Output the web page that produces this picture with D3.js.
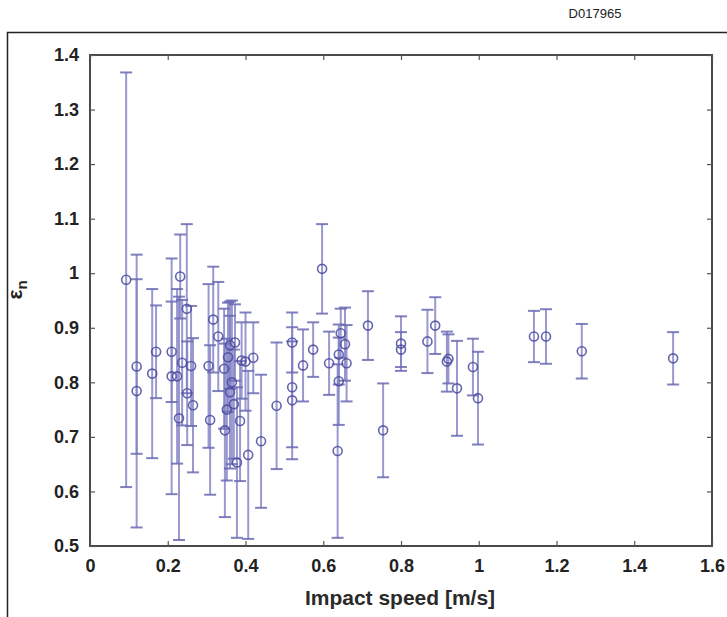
<!DOCTYPE html>
<html>
<head>
<meta charset="utf-8">
<script src="https://cdn.jsdelivr.net/npm/d3@7"></script>
<style>
  body { margin: 0; background: #fff; }
  svg { display: block; }
</style>
</head>
<body>
<svg id="chart" width="727" height="617"></svg>
<script>
// impact speed [m/s] for each measurement
var speed = [0.093, 0.12, 0.12, 0.16, 0.17, 0.21, 0.21, 0.224, 0.232, 0.237,
  0.229, 0.249, 0.26, 0.265, 0.25, 0.309, 0.305, 0.317, 0.33, 0.347,
  0.345, 0.355, 0.36, 0.36, 0.365, 0.373, 0.378, 0.37, 0.386, 0.40,
  0.407, 0.42, 0.39, 0.352, 0.44, 0.48, 0.52, 0.52, 0.52, 0.548,
  0.574, 0.597, 0.615, 0.637, 0.64, 0.64, 0.645, 0.656, 0.66, 0.715,
  0.754, 0.80, 0.80, 0.868, 0.888, 0.918, 0.922, 0.944, 0.985, 0.998,
  1.142, 1.173, 1.265, 1.50];
// restitution coefficient (mean)
var eps = [0.988, 0.829, 0.784, 0.816, 0.856, 0.856, 0.811, 0.811, 0.994, 0.836,
  0.734, 0.935, 0.83, 0.758, 0.78, 0.731, 0.83, 0.915, 0.884, 0.712,
  0.825, 0.846, 0.868, 0.782, 0.80, 0.873, 0.653, 0.76, 0.729, 0.838,
  0.667, 0.845, 0.84, 0.75, 0.692, 0.757, 0.873, 0.791, 0.767, 0.831,
  0.86, 1.008, 0.835, 0.674, 0.851, 0.802, 0.89, 0.87, 0.835, 0.904,
  0.712, 0.871, 0.86, 0.875, 0.904, 0.838, 0.843, 0.789, 0.828, 0.771,
  0.884, 0.884, 0.857, 0.844];
// error bar half-width
var err = [0.38, 0.16, 0.25, 0.155, 0.085, 0.092, 0.216, 0.16, 0.077, 0.115,
  0.223, 0.155, 0.11, 0.123, 0.095, 0.137, 0.15, 0.097, 0.1, 0.159,
  0.11, 0.10, 0.08, 0.14, 0.15, 0.07, 0.138, 0.10, 0.11, 0.09,
  0.154, 0.065, 0.07, 0.13, 0.122, 0.116, 0.055, 0.11, 0.108, 0.066,
  0.05, 0.082, 0.058, 0.159, 0.055, 0.08, 0.045, 0.067, 0.07, 0.063,
  0.086, 0.05, 0.032, 0.058, 0.052, 0.055, 0.045, 0.087, 0.052, 0.085,
  0.047, 0.05, 0.05, 0.048];

var xTicks = [0, 0.2, 0.4, 0.6, 0.8, 1, 1.2, 1.4, 1.6];
var yTicks = [0.5, 0.6, 0.7, 0.8, 0.9, 1, 1.1, 1.2, 1.3, 1.4];

var svg = d3.select("#chart");
// plot area edges (don't use "top": it clashes with window.top)
var pLeft = 90, pRight = 712, pTop = 55, pBottom = 546;

// outer figure frame
svg.append("path")
    .attr("d", "M7.5,617 L7.5,32.5 L727,32.5")
    .attr("fill", "none")
    .attr("stroke", "#222")
    .attr("stroke-width", 1.5);

svg.append("text")
    .attr("x", 595)
    .attr("y", 18)
    .attr("text-anchor", "middle")
    .attr("font-family", "Liberation Sans, Arial, sans-serif")
    .attr("font-size", 13)
    .attr("fill", "#222")
    .text("D017965");

var x = d3.scaleLinear().domain([0, 1.6]).range([pLeft, pRight]);
var y = d3.scaleLinear().domain([0.5, 1.4]).range([pBottom, pTop]);

// plot box
svg.append("rect")
    .attr("x", pLeft).attr("y", pTop)
    .attr("width", pRight - pLeft).attr("height", pBottom - pTop)
    .attr("fill", "#fff")
    .attr("stroke", "#4a4a4a")
    .attr("stroke-width", 2);

// axes with inward ticks on all four sides
function styleAxis(g) {
    g.select(".domain").remove();
    g.selectAll(".tick line").attr("stroke", "#555").attr("stroke-width", 1.2);
    g.selectAll(".tick text")
        .attr("font-family", "Liberation Sans, Arial, sans-serif")
        .attr("font-weight", "bold")
        .attr("font-size", 18)
        .attr("fill", "#222");
}

var fmt = function (d) { return String(+d.toFixed(1)); };

svg.append("g")
    .attr("transform", "translate(0," + pBottom + ")")
    .call(d3.axisBottom(x).tickValues(xTicks).tickSize(-5).tickPadding(13).tickFormat(fmt))
    .call(styleAxis);

svg.append("g")
    .attr("transform", "translate(0," + pTop + ")")
    .call(d3.axisTop(x).tickValues(xTicks).tickSize(-5).tickFormat(""))
    .call(styleAxis);

svg.append("g")
    .attr("transform", "translate(" + pLeft + ",0)")
    .call(d3.axisLeft(y).tickValues(yTicks).tickSize(-5).tickPadding(11).tickFormat(fmt))
    .call(styleAxis);

svg.append("g")
    .attr("transform", "translate(" + pRight + ",0)")
    .call(d3.axisRight(y).tickValues(yTicks).tickSize(-5).tickFormat(""))
    .call(styleAxis);

// build rows from the arrays
var points = speed.map(function (s, i) {
    return { s: s, e: eps[i], d: err[i] };
});

var bars = svg.append("g").attr("id", "errorbars");
var cap = 6;

bars.selectAll("line.stem")
    .data(points)
    .enter().append("line")
    .attr("class", "stem")
    .attr("x1", function (d) { return x(d.s); })
    .attr("x2", function (d) { return x(d.s); })
    .attr("y1", function (d) { return y(Math.max(0.5, d.e - d.d)); })
    .attr("y2", function (d) { return y(d.e + d.d); })
    .attr("stroke", "#8080c4")
    .attr("stroke-opacity", 0.8)
    .attr("stroke-width", 2);

["top", "bot"].forEach(function (side) {
    bars.selectAll("line.cap-" + side)
        .data(points.filter(function (d) {
            return side == "top" || d.e - d.d >= 0.5;
        }))
        .enter().append("line")
        .attr("class", "cap-" + side)
        .attr("x1", function (d) { return x(d.s) - cap; })
        .attr("x2", function (d) { return x(d.s) + cap; })
        .attr("y1", function (d) { return y(side == "top" ? d.e + d.d : d.e - d.d); })
        .attr("y2", function (d) { return y(side == "top" ? d.e + d.d : d.e - d.d); })
        .attr("stroke", "#6a6ab4")
        .attr("stroke-opacity", 0.85)
        .attr("stroke-width", 2);
});

svg.append("g").selectAll("circle")
    .data(points)
    .enter().append("circle")
    .attr("cx", function (d) { return x(d.s); })
    .attr("cy", function (d) { return y(d.e); })
    .attr("r", 4.5)
    .attr("fill", "none")
    .attr("stroke", "#4a4aa0")
    .attr("stroke-opacity", 0.85)
    .attr("stroke-width", 1.6);

// axis labels
svg.append("text")
    .attr("x", 400)
    .attr("y", 605)
    .attr("text-anchor", "middle")
    .attr("font-family", "Liberation Sans, Arial, sans-serif")
    .attr("font-size", 21)
    .attr("font-weight", "bold")
    .attr("fill", "#2a2a2a")
    .text("Impact speed [m/s]");

var ylab = svg.append("text")
    .attr("transform", "translate(22,290) rotate(-90)")
    .attr("text-anchor", "middle")
    .attr("font-family", "Liberation Sans, Arial, sans-serif")
    .attr("font-size", 21)
    .attr("font-weight", "bold")
    .attr("fill", "#222");
ylab.append("tspan").text("ε");
ylab.append("tspan").attr("dy", 5).attr("font-size", 15).text("n");
</script>
</body>
</html>
